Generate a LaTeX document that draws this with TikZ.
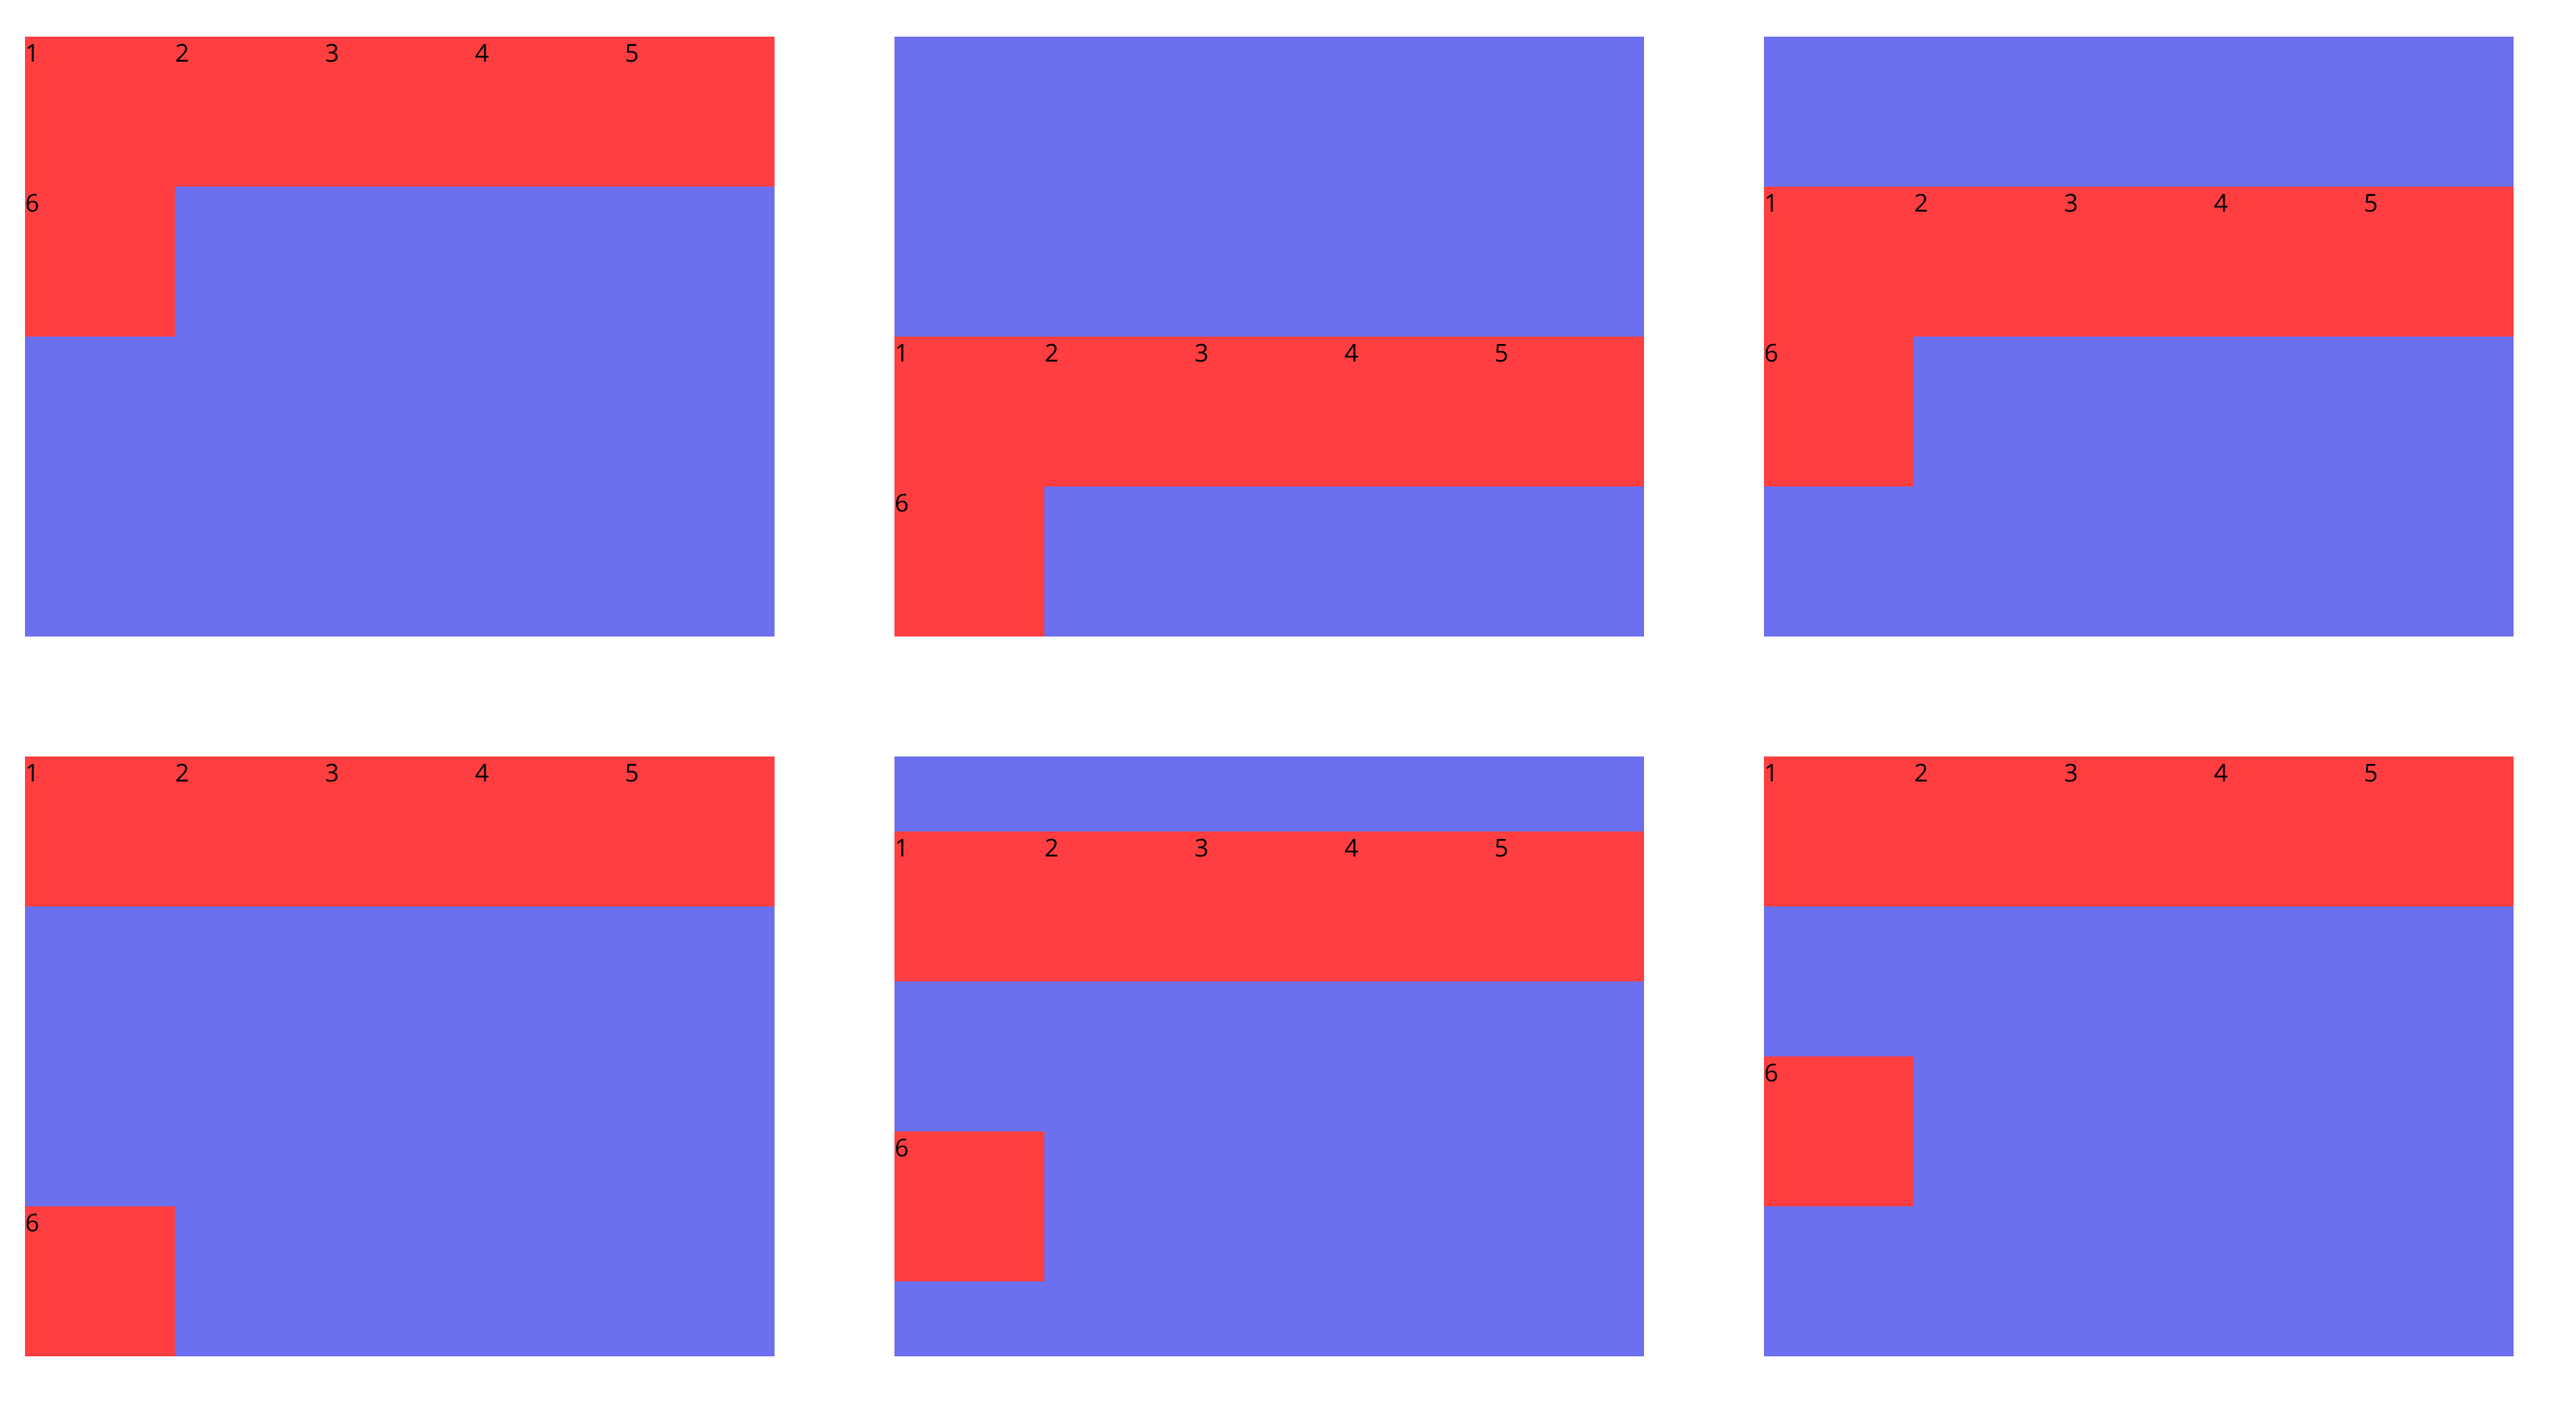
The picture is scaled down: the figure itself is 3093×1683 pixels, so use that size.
\documentclass[tikz,border=0pt]{standalone}
\usepackage{fontspec}
\setmainfont{Open Sans}
\definecolor{cellred}{RGB}{254,62,65}
\definecolor{gridblue}{RGB}{108,111,238}
\tikzset{
  gridbox/.style={fill=gridblue, draw=none},
  redbox/.style={fill=cellred, draw=none},
  lbl/.style={inner sep=0pt, anchor=base west, font=\fontsize{14.75pt}{18pt}\selectfont, text=black}
}
% #1 name, #2 x0, #3 y0 of panel, #4 y of red row, #5 y of cell 6
\newcommand\gridpanel[5]{%
  \path[gridbox] (#2,#3) rectangle ++(900,720);
  \path[redbox] (#2,#4) rectangle ++(900,180);
  \path[redbox] (#2,#5) rectangle ++(180,180);
  \node[lbl] (#1a) at ($(#2,#4)+(0,30)$) {1};
  \node[lbl] (#1b) at ($(#2,#4)+(180,30)$) {2};
  \node[lbl] (#1c) at ($(#2,#4)+(360,30)$) {3};
  \node[lbl] (#1d) at ($(#2,#4)+(540,30)$) {4};
  \node[lbl] (#1e) at ($(#2,#4)+(720,30)$) {5};
  \node[lbl] (#1f) at ($(#2,#5)+(0,30)$) {6};
}
\usetikzlibrary{calc}
\begin{document}
\begin{tikzpicture}[x=0.5pt,y=-0.5pt]
  \useasboundingbox[fill=white] (0,0) rectangle (3093,1683);
  \gridpanel{pa}{30}{44}{44}{224}
  \gridpanel{pb}{1074}{44}{404}{584}
  \gridpanel{pc}{2118}{44}{224}{404}
  \gridpanel{pd}{30}{908}{908}{1448}
  \gridpanel{pe}{1074}{908}{998}{1358}
  \gridpanel{pf}{2118}{908}{908}{1268}
\end{tikzpicture}
\end{document}
